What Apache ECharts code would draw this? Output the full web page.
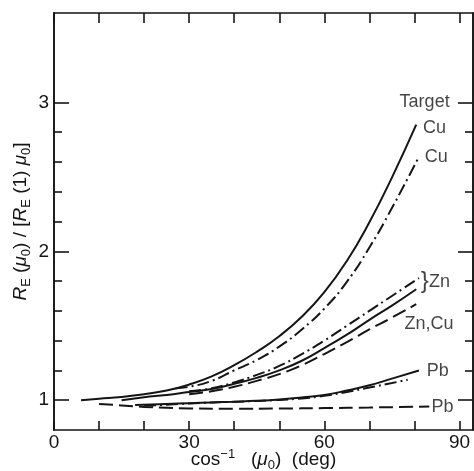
<!DOCTYPE html>
<html>
<head>
<meta charset="utf-8">
<script src="https://cdn.jsdelivr.net/npm/echarts@6/dist/echarts.min.js"></script>
<style>
  html, body { margin: 0; padding: 0; background: #fff; }
  #chart { width: 474px; height: 471px; }
</style>
</head>
<body>
<div id="chart"></div>
<script>
// [cos^-1(mu0) in deg, R_E(mu0) / [R_E(1) mu0]]
var cuSolid = [[6, 1.0], [10, 1.01], [15, 1.022], [20, 1.04], [25, 1.065], [30, 1.105], [35, 1.16], [40, 1.235], [45, 1.325], [50, 1.43], [55, 1.56], [60, 1.725], [65, 1.935], [70, 2.195], [75, 2.495], [80.4, 2.85]];
var cuDashDot = [[27, 1.08], [30, 1.09], [35, 1.13], [40, 1.2], [45, 1.27], [50, 1.36], [55, 1.475], [60, 1.615], [65, 1.795], [70, 2.025], [75, 2.29], [81, 2.635]];
var znDashDot = [[30, 1.06], [35, 1.08], [40, 1.12], [45, 1.17], [50, 1.23], [55, 1.31], [60, 1.4], [65, 1.5], [70, 1.6], [75, 1.7], [81, 1.82]];
var znSolid = [[15, 1.0], [20, 1.02], [25, 1.035], [30, 1.055], [35, 1.075], [40, 1.11], [45, 1.15], [50, 1.2], [55, 1.265], [60, 1.35], [65, 1.44], [70, 1.54], [75, 1.635], [80.4, 1.745]];
var znCuDashed = [[30, 1.04], [35, 1.06], [40, 1.09], [45, 1.13], [50, 1.175], [55, 1.235], [60, 1.31], [65, 1.39], [70, 1.475], [75, 1.555], [80.4, 1.645]];
var pbSolid = [[18, 0.968], [25, 0.975], [30, 0.98], [35, 0.985], [40, 0.99], [45, 0.996], [50, 1.005], [55, 1.018], [60, 1.035], [65, 1.065], [70, 1.1], [75, 1.145], [81, 1.2]];
var pbDashDot = [[20, 0.962], [25, 0.97], [30, 0.978], [35, 0.985], [40, 0.99], [45, 0.995], [50, 1.002], [55, 1.012], [60, 1.03], [65, 1.055], [70, 1.085], [75, 1.115], [78.5, 1.138]];
var pbDashed = [[10, 0.975], [15, 0.965], [20, 0.955], [25, 0.949], [30, 0.945], [40, 0.943], [50, 0.944], [60, 0.947], [70, 0.951], [83.3, 0.957]];

// target labels at the right end of the curves
var labelTexts = ["Target", "Cu", "Cu", "Zn", "Zn,Cu", "Pb", "Pb"];
var labelX = [76.6, 81.8, 82.2, 83.1, 77.7, 82.6, 83.7];
var labelY = [3.0, 2.83, 2.63, 1.795, 1.51, 1.194, 0.957];
// brace grouping the two Zn curves
var braceX = [81.3];
var braceY = [1.8];

// ticks
var xTicks = [0, 10, 20, 30, 40, 50, 60, 70, 80, 90];
var xLabels = [0, 30, 60, 90];
var yMajor = [1, 2, 3];
var yMinor = [1.2, 1.4, 1.6, 1.8, 2.2, 2.4, 2.6, 2.8];

var chart = echarts.init(document.getElementById("chart"));
var ink = "#151515";
var font = "Liberation Sans";

var rich = {
  n: { fontSize: 19, lineHeight: 24, color: ink, fontFamily: font },
  it: { fontSize: 19, lineHeight: 24, color: ink, fontFamily: font, fontStyle: "italic" },
  sub: { fontSize: 13, lineHeight: 12, color: ink, fontFamily: font, verticalAlign: "bottom" },
  sup: { fontSize: 13, lineHeight: 12, color: ink, fontFamily: font, verticalAlign: "top" }
};

function curve(data, type) {
  return {
    type: "line",
    data: data,
    smooth: true,
    symbol: "none",
    silent: true,
    lineStyle: { color: ink, width: 2, type: type }
  };
}

function textSeries(texts, xs, ys, size) {
  var data = [];
  for (var i = 0; i < texts.length; i++) {
    data.push({ name: texts[i], value: [xs[i], ys[i]] });
  }
  return {
    type: "scatter",
    data: data,
    symbolSize: 1,
    silent: true,
    itemStyle: { color: "rgba(0,0,0,0)" },
    label: {
      show: true,
      position: "right",
      distance: 0,
      formatter: "{b}",
      color: ink,
      fontSize: size,
      fontFamily: font
    }
  };
}

var dashDot = [12, 4, 2, 4];
var dashed = [14, 6];

function yAxisCfg(pos, ticks, len, labels) {
  return {
    type: "value",
    min: 0.8,
    max: 3.6,
    position: pos,
    axisLine: { show: true, lineStyle: { color: ink, width: 1.6 } },
    axisTick: { show: true, inside: true, length: len, customValues: ticks, lineStyle: { color: ink, width: 1.6 } },
    axisLabel: labels ? { show: true, customValues: yMajor, color: ink, fontSize: 19, fontFamily: font, margin: 5 } : { show: false },
    splitLine: { show: false }
  };
}

var yLeft = yAxisCfg("left", yMajor, 15, true);
yLeft.name = "{it|R}{sub|E}{n| (}{it|μ}{sub|0}{n|) / [}{it|R}{sub|E}{n| (1) }{it|μ}{sub|0}{n|]}";
yLeft.nameLocation = "middle";
yLeft.nameGap = 21;
yLeft.nameMoveOverlap = false;
yLeft.nameTextStyle = { rich: rich };

var option = {
  animation: false,
  backgroundColor: "#fff",
  grid: { left: 54, right: 1, top: 13, bottom: 41, outerBoundsMode: "none", containLabel: false },
  xAxis: [
    {
      type: "value",
      min: 0,
      max: 93,
      position: "bottom",
      axisLine: { show: true, lineStyle: { color: ink, width: 1.6 } },
      axisTick: { show: true, inside: true, length: 9, customValues: xTicks, lineStyle: { color: ink, width: 1.6 } },
      axisLabel: { customValues: xLabels, color: ink, fontSize: 19, fontFamily: font, margin: 3 },
      splitLine: { show: false },
      name: "{n|cos}{sup|−1}{n|   (}{it|μ}{sub|0}{n|)  (deg)}",
      nameLocation: "middle",
      nameGap: 18,
      nameMoveOverlap: false,
      nameTextStyle: { rich: rich }
    },
    {
      type: "value",
      min: 0,
      max: 93,
      position: "top",
      axisLine: { show: true, lineStyle: { color: ink, width: 1.6 } },
      axisTick: { show: true, inside: true, length: 10, customValues: xTicks, lineStyle: { color: ink, width: 1.6 } },
      axisLabel: { show: false },
      splitLine: { show: false }
    }
  ],
  yAxis: [
    yLeft,
    yAxisCfg("left", yMinor, 8, false),
    yAxisCfg("right", yMajor, 15, false),
    yAxisCfg("right", yMinor, 8, false)
  ],
  series: [
    curve(cuSolid, "solid"),
    curve(cuDashDot, dashDot),
    curve(znDashDot, dashDot),
    curve(znSolid, "solid"),
    curve(znCuDashed, dashed),
    curve(pbSolid, "solid"),
    curve(pbDashDot, dashDot),
    curve(pbDashed, dashed),
    textSeries(labelTexts, labelX, labelY, 18),
    textSeries(["}"], braceX, braceY, 24)
  ]
};

chart.setOption(option);
</script>
</body>
</html>
